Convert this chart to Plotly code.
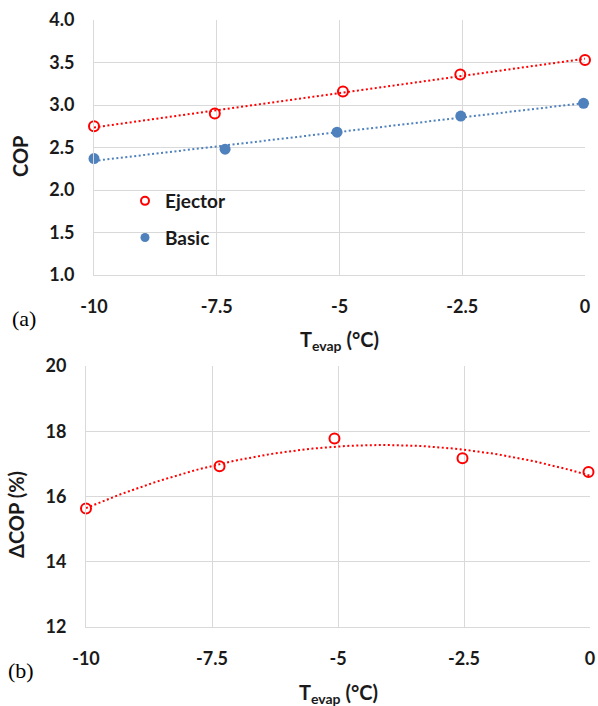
import numpy as np
import plotly.graph_objects as go

# ---- data ----
ej_x = [-10, -7.54, -4.93, -2.54, 0]
ej_cop = [2.75, 2.90, 3.16, 3.36, 3.53]
bas_x = [-10, -7.33, -5.05, -2.53, -0.03]
bas_cop = [2.37, 2.48, 2.68, 2.87, 3.02]
d_x = [-10, -7.35, -5.07, -2.53, -0.03]
d_cop = [15.63, 16.93, 17.78, 17.17, 16.75]
x_ticks = [-10, -7.5, -5, -2.5, 0]
x_ticklabels = ["-10", "-7.5", "-5", "-2.5", "0"]
y1_ticks = [1.0, 1.5, 2.0, 2.5, 3.0, 3.5, 4.0]
y2_ticks = [12, 14, 16, 18, 20]

RED = "#ff0000"
BLUE = "#4f81bd"
GRID = "#d9d9d9"
TXT = "#1a1a1a"
FONT = "Lato"
DOT = "2px,2.5px"

# trendlines (Excel-style fits of the data)
xs = np.linspace(-10, 0, 121)
ej_fit = np.polyval(np.polyfit(ej_x, ej_cop, 1), xs)
bas_fit = np.polyval(np.polyfit(bas_x, bas_cop, 1), xs)
d_fit = np.polyval(np.polyfit(d_x, d_cop, 2), xs)

fig = go.Figure()

fig.add_trace(go.Scatter(x=xs, y=ej_fit, mode="lines", line=dict(color=RED, width=2, dash=DOT),
                         showlegend=False, hoverinfo="skip", xaxis="x", yaxis="y"))
fig.add_trace(go.Scatter(x=xs, y=bas_fit, mode="lines", line=dict(color=BLUE, width=2, dash=DOT),
                         showlegend=False, hoverinfo="skip", xaxis="x", yaxis="y"))
fig.add_trace(go.Scatter(x=ej_x, y=ej_cop, mode="markers", name="Ejector", showlegend=False,
                         marker=dict(symbol="circle-open", color=RED, size=10, line=dict(width=2)),
                         cliponaxis=False, xaxis="x", yaxis="y"))
fig.add_trace(go.Scatter(x=bas_x, y=bas_cop, mode="markers", name="Basic", showlegend=False,
                         marker=dict(symbol="circle", color=BLUE, size=11),
                         cliponaxis=False, xaxis="x", yaxis="y"))
# legend entries (smaller symbols, as in the reference legend)
fig.add_trace(go.Scatter(x=[None], y=[None], mode="markers", name="Ejector", legendgroup="a",
                         marker=dict(symbol="circle-open", color=RED, size=8, line=dict(width=2)),
                         xaxis="x", yaxis="y"))
fig.add_trace(go.Scatter(x=[None], y=[None], mode="markers", name="Basic", legendgroup="b",
                         marker=dict(symbol="circle", color=BLUE, size=9),
                         xaxis="x", yaxis="y"))

fig.add_trace(go.Scatter(x=xs, y=d_fit, mode="lines", line=dict(color=RED, width=2, dash=DOT),
                         showlegend=False, hoverinfo="skip", xaxis="x2", yaxis="y2"))
fig.add_trace(go.Scatter(x=d_x, y=d_cop, mode="markers", name="ΔCOP", showlegend=False,
                         marker=dict(symbol="circle-open", color=RED, size=10, line=dict(width=2)),
                         cliponaxis=False, xaxis="x2", yaxis="y2"))

W, H = 598, 706
def px(x0, x1):
    return [x0 / W, x1 / W]
def py(top, bottom):
    return [1 - bottom / H, 1 - top / H]

axis_common = dict(showgrid=True, gridcolor=GRID, gridwidth=1, zeroline=False,
                   showline=True, linecolor=GRID, linewidth=1, mirror=False, automargin=False,
                   tickfont=dict(family=FONT, size=18, color=TXT, weight="bold"), ticks="")

fig.update_layout(
    width=W, height=H,
    margin=dict(l=0, r=0, t=0, b=0, pad=0),
    paper_bgcolor="white", plot_bgcolor="white",
    font=dict(family=FONT, color=TXT),
    xaxis=dict(domain=px(94, 585), range=[-10, 0], tickvals=x_ticks, ticktext=x_ticklabels,
               anchor="y", ticklabelstandoff=15, **axis_common),
    yaxis=dict(domain=py(20, 275), range=[1, 4], tickvals=y1_ticks, tickformat=".1f",
               anchor="x", ticklabelstandoff=15, **axis_common),
    xaxis2=dict(domain=px(86, 590), range=[-10, 0], tickvals=x_ticks, ticktext=x_ticklabels,
                anchor="y2", ticklabelstandoff=15, **axis_common),
    yaxis2=dict(domain=py(366, 627), range=[12, 20], tickvals=y2_ticks,
                anchor="x2", ticklabelstandoff=15, **axis_common),
    showlegend=True,
    legend=dict(x=125 / W, y=1 - 182 / H, xanchor="left", yanchor="top",
                bgcolor="rgba(0,0,0,0)", traceorder="grouped", tracegroupgap=9,
                itemwidth=30, font=dict(family=FONT, size=19, color=TXT, weight="bold")),
)

ann_font = dict(family=FONT, size=20, color=TXT)
annotations = [
    dict(text="<b>COP</b>", x=20 / W, y=1 - 157 / H, textangle=-90, font=ann_font),
    dict(text="<b>T<sub>evap</sub> (°C)</b>", x=339 / W, y=1 - 340 / H, font=ann_font),
    dict(text="<b>ΔCOP (%)</b>", x=16 / W, y=1 - 515 / H, textangle=-90, font=ann_font),
    dict(text="<b>T<sub>evap</sub> (°C)</b>", x=338 / W, y=1 - 693 / H, font=ann_font),
    dict(text="(a)", x=24 / W, y=1 - 318 / H, font=dict(family="Liberation Serif", size=22, color="#000")),
    dict(text="(b)", x=21 / W, y=1 - 670 / H, font=dict(family="Liberation Serif", size=22, color="#000")),
]
for a in annotations:
    a.update(xref="paper", yref="paper", showarrow=False, xanchor="center", yanchor="middle")
fig.update_layout(annotations=annotations)

fig.write_html("out.html", config={"displayModeBar": False},
               post_script="document.body.style.margin='0';")
